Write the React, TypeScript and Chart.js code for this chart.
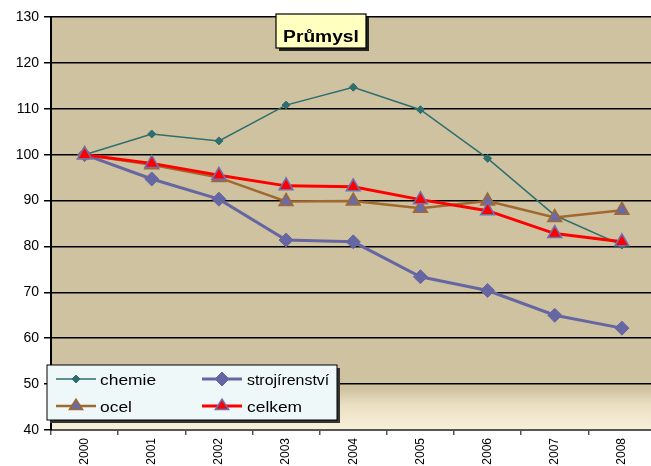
import React, { useEffect, useRef } from "react";
import { Chart, registerables } from "chart.js";

Chart.register(...registerables);

const years = ["2000", "2001", "2002", "2003", "2004", "2005", "2006", "2007", "2008"];
const chemie = [100, 104.5, 103.0, 110.8, 114.7, 109.8, 99.2, 86.8, 80.3];
const strojirenstvi = [100, 94.7, 90.3, 81.4, 81.0, 73.4, 70.4, 65.0, 62.2];
const ocel = [100, 97.8, 95.0, 89.8, 89.9, 88.3, 89.9, 86.3, 87.9];
const celkem = [100, 98.1, 95.5, 93.2, 93.0, 90.2, 87.8, 82.8, 81.0];
const titleText = "Průmysl";
const legendLabels = ["chemie", "strojírenství", "ocel", "celkem"];

const FONT = "'Liberation Sans', Arial, sans-serif";

function drawMarker(ctx: CanvasRenderingContext2D, style: string, x: number, y: number, r: number, fill: string, stroke: string, lw: number) {
  ctx.save();
  ctx.beginPath();
  if (style === "rectRot") {
    ctx.moveTo(x, y - r);
    ctx.lineTo(x + r, y);
    ctx.lineTo(x, y + r);
    ctx.lineTo(x - r, y);
  } else {
    const h = r * 1.5;
    ctx.moveTo(x, y - h * 0.66);
    ctx.lineTo(x + r * 0.95, y + h * 0.34);
    ctx.lineTo(x - r * 0.95, y + h * 0.34);
  }
  ctx.closePath();
  ctx.fillStyle = fill;
  ctx.fill();
  ctx.lineWidth = lw;
  ctx.strokeStyle = stroke;
  ctx.stroke();
  ctx.restore();
}

function scaledText(ctx: CanvasRenderingContext2D, text: string, x: number, y: number, sx: number, align: "left" | "center") {
  ctx.save();
  ctx.translate(x, y);
  ctx.scale(sx, 1);
  ctx.textAlign = align;
  ctx.textBaseline = "alphabetic";
  ctx.fillText(text, 0, 0);
  ctx.restore();
}

const bgPlugin = {
  id: "bgPlugin",
  beforeDraw(chart: any) {
    const { ctx, chartArea } = chart;
    const { left, top, right, bottom } = chartArea;
    const g = ctx.createLinearGradient(0, top, 0, bottom);
    g.addColorStop(0, "#CFC2A0");
    g.addColorStop(0.9, "#CFC2A0");
    g.addColorStop(0.94, "#EAE0C4");
    g.addColorStop(1, "#F8F0D8");
    ctx.save();
    ctx.fillStyle = g;
    ctx.fillRect(left, top, right - left, bottom - top);
    ctx.restore();
  },
};

const overlayPlugin = {
  id: "overlayPlugin",
  afterDraw(chart: any) {
    const ctx: CanvasRenderingContext2D = chart.ctx;
    // Title box
    ctx.save();
    ctx.fillStyle = "#222";
    ctx.fillRect(279, 17, 90, 34);
    ctx.fillStyle = "#FFFFC0";
    ctx.fillRect(276, 14, 90, 34);
    ctx.strokeStyle = "#000";
    ctx.lineWidth = 1.2;
    ctx.strokeRect(276, 14, 90, 34);
    ctx.fillStyle = "#000";
    ctx.font = `bold 16px ${FONT}`;
    scaledText(ctx, titleText, 321, 42, 1.2, "center");
    ctx.restore();

    // Legend box
    const L = 47, T = 365, W = 290, H = 55;
    ctx.save();
    ctx.fillStyle = "#333";
    ctx.fillRect(L + 3, T + 3, W, H);
    ctx.fillStyle = "#EEF8F8";
    ctx.fillRect(L, T, W, H);
    ctx.strokeStyle = "#000";
    ctx.lineWidth = 1;
    ctx.strokeRect(L, T, W, H);

    const items = [
      { x0: 56, x1: 96, mx: 76, y: 379, color: "#2E6E6E", lw: 1.5, style: "rectRot", r: 4, fill: "#2E6E6E", stroke: "#2E6E6E", tx: 100, sx: 1.16, label: legendLabels[0] },
      { x0: 202, x1: 242, mx: 222, y: 379, color: "#6666A3", lw: 3, style: "rectRot", r: 7, fill: "#6666A3", stroke: "#6666A3", tx: 247, sx: 1.06, label: legendLabels[1] },
      { x0: 56, x1: 96, mx: 76, y: 406, color: "#A0692F", lw: 2.5, style: "triangle", r: 7, fill: "#6A6AA6", stroke: "#A0692F", tx: 100, sx: 1.16, label: legendLabels[2] },
      { x0: 202, x1: 242, mx: 222, y: 406, color: "#FF0000", lw: 3, style: "triangle", r: 7, fill: "#FF0000", stroke: "#7070B0", tx: 247, sx: 1.16, label: legendLabels[3] },
    ];
    items.forEach((it) => {
      ctx.beginPath();
      ctx.strokeStyle = it.color;
      ctx.lineWidth = it.lw;
      ctx.moveTo(it.x0, it.y);
      ctx.lineTo(it.x1, it.y);
      ctx.stroke();
      drawMarker(ctx, it.style, it.mx, it.y, it.r, it.fill, it.stroke, it.style === "triangle" ? 1.5 : 1);
      ctx.fillStyle = "#000";
      ctx.font = `15px ${FONT}`;
      scaledText(ctx, it.label, it.tx, it.y + 5.5, it.sx, "left");
    });
    ctx.restore();
  },
};

export default function App() {
  const ref = useRef<HTMLCanvasElement | null>(null);

  useEffect(() => {
    document.body.style.margin = "0";
    document.body.style.overflow = "hidden";
    document.documentElement.style.overflow = "hidden";
    const canvas = ref.current;
    if (!canvas) return;
    const chart = new Chart(canvas, {
      type: "line",
      data: {
        labels: years,
        datasets: [
          {
            label: legendLabels[0],
            data: chemie,
            borderColor: "#2E6E6E",
            backgroundColor: "#2E6E6E",
            borderWidth: 1.5,
            pointStyle: "rectRot",
            pointRadius: 4,
            pointBackgroundColor: "#2E6E6E",
            pointBorderColor: "#2E6E6E",
            pointBorderWidth: 1,
            tension: 0,
            order: 3,
          },
          {
            label: legendLabels[1],
            data: strojirenstvi,
            borderColor: "#6666A3",
            backgroundColor: "#6666A3",
            borderWidth: 3,
            pointStyle: "rectRot",
            pointRadius: 7,
            pointBackgroundColor: "#6666A3",
            pointBorderColor: "#6666A3",
            pointBorderWidth: 1,
            tension: 0,
            order: 2,
          },
          {
            label: legendLabels[2],
            data: ocel,
            borderColor: "#A0692F",
            backgroundColor: "#6A6AA6",
            borderWidth: 2.5,
            pointStyle: "triangle",
            pointRadius: 8,
            pointBackgroundColor: "#6A6AA6",
            pointBorderColor: "#A0692F",
            pointBorderWidth: 1.5,
            tension: 0,
            order: 1,
          },
          {
            label: legendLabels[3],
            data: celkem,
            borderColor: "#FF0000",
            backgroundColor: "#FF0000",
            borderWidth: 3,
            pointStyle: "triangle",
            pointRadius: 8,
            pointBackgroundColor: "#FF0000",
            pointBorderColor: "#7070B0",
            pointBorderWidth: 1.5,
            tension: 0,
            order: 0,
          },
        ],
      },
      options: {
        animation: false,
        responsive: false,
        maintainAspectRatio: false,
        devicePixelRatio: 1,
        layout: { padding: { top: 17, right: 0, left: 0, bottom: 0 } },
        plugins: {
          legend: { display: false },
          title: { display: false },
          tooltip: { enabled: false },
        },
        scales: {
          x: {
            type: "category",
            offset: true,
            grid: {
              offset: true,
              drawOnChartArea: false,
              drawTicks: true,
              tickLength: 5,
              color: "#555",
              lineWidth: 1.5,
            },
            border: { display: true, color: "#555", width: 2 },
            ticks: {
              color: "#000",
              font: { family: FONT, size: 12 },
              maxRotation: 90,
              minRotation: 90,
              padding: 3,
              autoSkip: false,
            },
            afterFit: (s: any) => {
              s.height = 36;
            },
          },
          y: {
            min: 40,
            max: 130,
            ticks: {
              stepSize: 10,
              color: "#000",
              font: { family: FONT, size: 14 },
              padding: 5,
            },
            grid: {
              color: "#000",
              lineWidth: 1.5,
              drawTicks: true,
              tickLength: 7,
              tickColor: "#000",
            },
            border: { display: true, color: "#000", width: 2 },
            afterFit: (s: any) => {
              s.width = 51;
            },
          },
        },
      },
      plugins: [bgPlugin, overlayPlugin],
    });
    return () => chart.destroy();
  }, []);

  return (
    <div style={{ position: "absolute", left: 0, top: 0, width: 651, height: 466, overflow: "hidden", background: "#fff" }}>
      <canvas ref={ref} width={665} height={466} style={{ width: 665, height: 466, display: "block" }} />
    </div>
  );
}
